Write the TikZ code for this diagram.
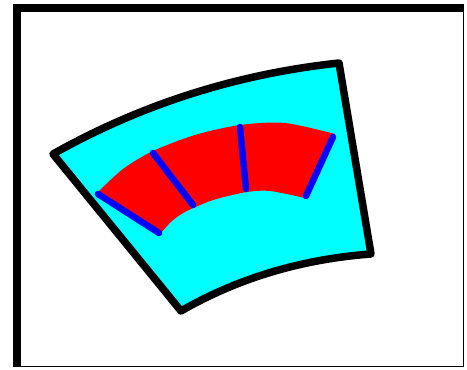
\documentclass[tikz,border=0pt]{standalone}
\begin{document}
\begin{tikzpicture}[x=1pt,y=-1pt,
  outline/.style={draw=black,line width=7.5pt,line join=round,fill={rgb,255:red,0;green,255;blue,255}},
  band/.style={fill={rgb,255:red,255;green,0;blue,0}},
  divider/.style={draw={rgb,255:red,0;green,0;blue,255},line width=6.5pt,line cap=round}]
\useasboundingbox (0,0) rectangle (467,370);
% frame
\fill[black] (13,4) rectangle (464,367);
\fill[white] (21,11.5) rectangle (463,366);
% outer curved panel
\coordinate (TL) at (53,154);
\coordinate (TR) at (339,63);
\coordinate (BR) at (371,254);
\coordinate (BL) at (181,311);
\path[outline] (TL) .. controls (142,104) and (237,74) .. (TR) -- (BR)
  .. controls (304,259) and (240,277) .. (BL) -- cycle;
% red band
\fill[band] plot[smooth] coordinates {(97,193) (123,169) (153,151) (195,135) (240,125) (285,123) (335,134)}
  -- plot[smooth] coordinates {(305,198) (270,191) (247,192) (220,198) (205,203) (185,212) (172,221) (159,235)} -- cycle;
% dividers
\coordinate (d1a) at (98,194);  \coordinate (d1b) at (159,233);
\coordinate (d2a) at (153,153); \coordinate (d2b) at (193,205);
\coordinate (d3a) at (240,127); \coordinate (d3b) at (246,189);
\coordinate (d4a) at (333,137); \coordinate (d4b) at (306,196);
\draw[divider] (d1a) -- (d1b);
\draw[divider] (d2a) -- (d2b);
\draw[divider] (d3a) -- (d3b);
\draw[divider] (d4a) -- (d4b);
\end{tikzpicture}
\end{document}
